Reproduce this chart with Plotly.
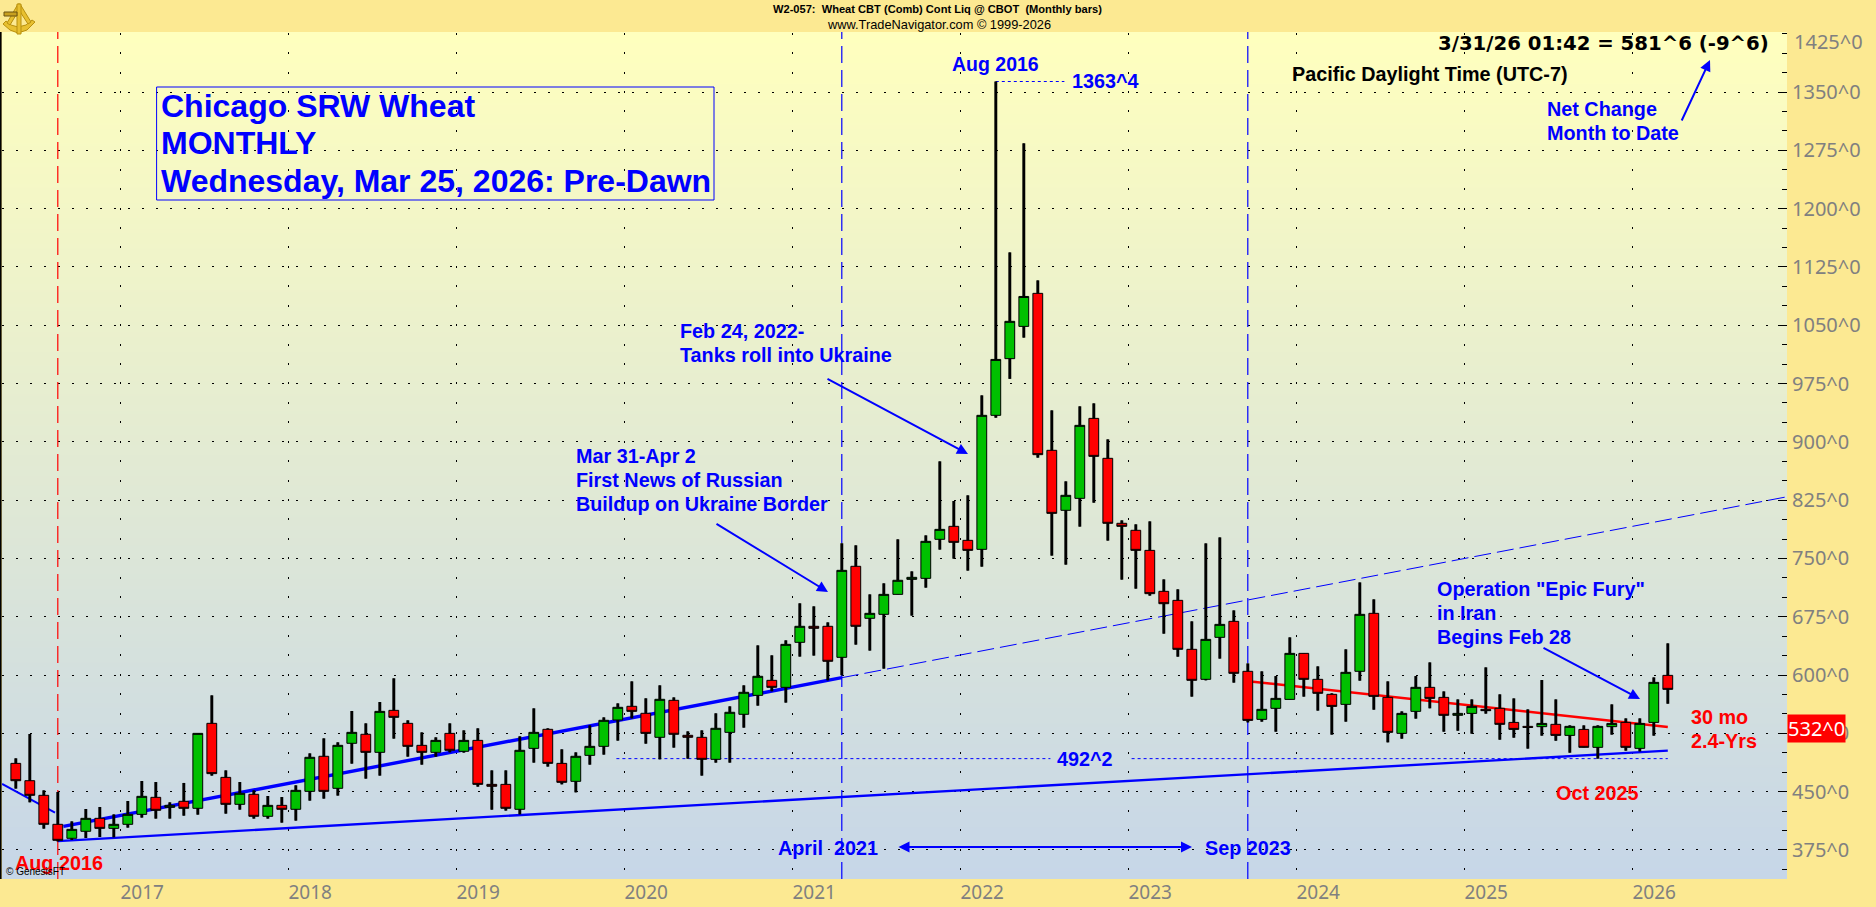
import base64, struct, zlib
import plotly.graph_objects as go

# ---------- data (prices in cents, one candle per month, May 2016 .. Mar 2026)
opens = [486.4,464.1,445.3,408,390,399,415.7,402.8,408,420.8,442.7,429.8,437.6,428.6,537.9,468.4,433.7,446.6,418.3,432.4,
 427.3,450.4,495.5,454.3,512.2,523.8,500.6,554.6,537.9,509.6,500.6,525,501.9,516,459.4,459.4,427.3,505.7,530.2,486.4,
 463.3,496.7,508.3,542.2,559.8,550.8,519.9,567.5,522.5,519.9,491.6,526.3,549.5,573.9,593.2,584.2,642.1,662.7,662.7,622.8,
 739.9,673,678.1,703.8,723.1,724.4,774.6,791.3,773.3,761.7,934.1,1007,1048.5,1091,889.1,811.9,827.3,930.2,878.8,795.2,
 786.2,760.4,707.7,696.1,633.1,594.5,648.5,669.1,604.8,543,557.2,568.7,627.9,594.5,575.2,562.3,604.8,679.4,571.3,525,
 553.3,584.2,571.3,548.2,550.7,555.9,557.2,539.1,534,533.6,536.6,522.4,530.1,507,533.6,539.1,505.7,539.1,599.6]
highs = [492.9,524.2,451.7,449.6,411.8,427.7,430.3,420.8,438,463.7,462.4,436.3,461.2,525,573.9,477.4,462.4,451.7,444.4,443.1,
 458.2,499.3,518.6,513.5,553.8,537.9,565.3,595.8,541.8,526.3,519.9,537.9,528.9,531.5,477.4,477.4,521.2,557.2,531.5,504.5,
 500.6,535.3,545.6,563.6,591.9,570.1,586.8,571.3,527.6,528.9,550.8,559.8,586.8,638.2,625.4,644.7,692.3,688.4,667.8,769.5,
 766.9,703.8,718,774.6,733.4,779.7,874.9,823.9,831.2,959.8,1363.5,1143.7,1284,1107.7,940.5,849.2,945.7,949.5,903.2,799,
 793.9,797.7,723.1,710.3,669.1,769.4,777.1,683.2,615,604.8,598.7,648.5,627.9,611.2,576.5,633.1,719.2,697.4,591.9,553.3,
 598.7,616.3,579,568.7,568.7,609.9,575.2,570,555.9,593.6,568.7,535.3,535.3,535.3,562.3,544.3,544.3,597,640.8]
lows = [453.9,436.3,402.4,386,387.8,390.4,391.7,391.3,403.7,416.6,415.3,415.3,419.1,420.4,470.6,421.7,426.8,415.3,415.3,410.1,
 412.7,438.4,441,444.9,486,466.7,470.6,518.2,495,484.7,495,500.6,500.2,456.4,426.8,425.6,420.8,487.3,482.2,459.4,
 449.1,484.7,497.6,515.6,544.3,511.7,491.6,506.6,492.4,470.6,487.3,487.3,532.3,560.6,579.1,564.5,623.7,625,593.2,599.7,
 639.1,631.4,608.2,703.8,676.4,712.4,761.3,749.7,734.3,739.4,931.1,981,1034,879.6,753.6,742,790.9,821.7,772.9,722.7,
 711.1,702.1,653.2,623.6,572.2,593.2,621.1,590.2,539.1,540,527.1,568.7,572.2,554.2,523.3,540,592.7,555.4,513.4,518.1,
 543.9,557.2,527.1,528.4,524.6,550.3,516.8,519.4,505.3,522,515.5,500.1,507,492.5,523.3,502.7,501.8,522,563.1]
closes = [464.1,445.3,408,387.4,401.5,415.7,402.8,408,420.8,444,426,432.4,428.6,525,473.2,433.7,447.9,418.3,432.4,427.3,
 451.7,494.2,450.4,509.6,526.3,500.6,553.3,545.6,508.3,500.6,516,503.2,516,459.4,456.9,428.6,503.2,526.3,486.4,462,
 495.5,508.3,541.8,558.5,553.3,525,568.8,523.8,519.9,491.6,531.5,552.1,577.8,598.4,584.2,639.5,662.7,660.1,617.7,734.7,
 662.7,679.4,703.8,721.9,725.7,772,787.4,770.7,760.4,934.1,1006,1055,1087,883.5,808,831.2,921.2,881.3,795.2,791.3,
 760.4,704.7,691.8,633.1,593.2,645.9,665.2,602.2,541.7,555.9,570,627.9,594.5,576.5,559.7,603.5,678.1,572.6,526.3,550.7,
 584.2,570,548.2,550.7,559.7,554.2,536.6,530.1,532.7,537.8,522.4,534,507,534,537.8,507,537.8,590.6,581.6]
months = list(range(len(opens)))

year_labels = ["2017","2018","2019","2020","2021","2022","2023","2024","2025","2026"]
year_breaks = [7.46,19.46,31.46,43.46,55.46,67.46,79.46,91.46,103.46,115.46]
price_ticks = [375,450,525,600,675,750,825,900,975,1050,1125,1200,1275,1350,1425]
price_labels = [f"{p}^0" for p in price_ticks]

uptrend = [(3.4, 405.4), (59, 596.6)]
uptrend_ext = [(59, 596.6), (126.5, 829.3)]
lead_in = [(-0.98, 459.9), (2.8, 423)]
support = [(3, 386.5), (118, 502.7)]
red_trend = [(88.37, 591.4), (118, 533.2)]
low_level_a = [(42.9, 492.5), (73.9, 492.5)]
low_level_b = [(79.7, 492.5), (118, 492.5)]
high_level = [(70, 1363.5), (74.9, 1363.5)]
event_months = [(3, "#ff0000"), (59, "#0000ff"), (88, "#0000ff")]

# ---------- layout constants
W, H = 1876, 907
L, R, T, B = 2, 1787, 32, 879
X_RANGE = [(L - 15.8) / 14, (R - 15.8) / 14]
Y_RANGE = [1425 - (B - 33.7) / 0.7774, 1425 - (T - 33.7) / 0.7774]
BLUE, RED = "#0000ff", "#ff0000"
ARIAL = "Liberation Sans"
GOLD, GOLD_DK = "#e8c030", "#b8900f"

def fx(px): return (px - L) / (R - L)
def fy(py): return (B - py) / (B - T)

# plot-area gradient as a PNG
def gradient_png(h, top, bottom):
    rows = b""
    for r in range(h):
        t = r / (h - 1)
        rows += b"\x00" + bytes(round(a + (b - a) * t) for a, b in zip(top, bottom))
    def chunk(tag, d):
        return struct.pack(">I", len(d)) + tag + d + struct.pack(">I", zlib.crc32(tag + d) & 0xffffffff)
    png = b"\x89PNG\r\n\x1a\n" + chunk(b"IHDR", struct.pack(">IIBBBBB", 1, h, 8, 2, 0, 0, 0)) + chunk(b"IDAT", zlib.compress(rows)) + chunk(b"IEND", b"")
    return "data:image/png;base64," + base64.b64encode(png).decode()

fig = go.Figure()

shapes = []
def line(seg, color, width, dash="solid"):
    (x0, y0), (x1, y1) = seg
    shapes.append(dict(type="line", xref="x", yref="y", x0=x0, y0=y0, x1=x1, y1=y1, layer="between",
                       line=dict(color=color, width=width, dash=dash)))

for i, color in event_months:
    line([(i, Y_RANGE[0]), (i, Y_RANGE[1])], color, 1.2, "17px,7px")
line(lead_in, BLUE, 2)
line(uptrend, BLUE, 3.4)
line(uptrend_ext, BLUE, 1, "17px,6px")
line(support, BLUE, 2.3)
line(red_trend, RED, 2.5)
line(low_level_a, BLUE, 1, "3px,3px")
line(low_level_b, BLUE, 1, "3px,3px")
line(high_level, BLUE, 1, "3px,3px")

# heavy wicks, drawn under the candle bodies
fig.add_trace(go.Bar(x=months, y=[h - l for h, l in zip(highs, lows)], base=lows, width=0.21,
                     marker=dict(color="black", line=dict(width=0)), hoverinfo="skip", showlegend=False))

fig.add_trace(go.Candlestick(
    x=months, open=opens, high=highs, low=lows, close=closes, whiskerwidth=0,
    increasing=dict(fillcolor="#00c000", line=dict(color="black", width=1)),
    decreasing=dict(fillcolor="#ff0000", line=dict(color="black", width=1)),
    showlegend=False, hoverinfo="skip"))

annotations = []
def text(px, py, s, size=19.8, color=BLUE, bold=True, family=ARIAL, anchor="left", **kw):
    annotations.append(dict(xref="paper", yref="paper", x=fx(px), y=fy(py), text=f"<b>{s}</b>" if bold else s,
                            showarrow=False, xanchor=anchor, yanchor="middle", align=anchor,
                            font=dict(family=family, size=size, color=color), borderpad=0, **kw))

def arrow(x0, y0, x1, y1, width=2, side="end"):
    annotations.append(dict(xref="paper", yref="paper", axref="pixel", ayref="pixel", x=fx(x1), y=fy(y1),
                            ax=x0 - x1, ay=y0 - y1, text="", showarrow=True, arrowhead=2, arrowsize=1.1,
                            arrowwidth=width, arrowcolor=BLUE, arrowside=side))

# headers
text(937.5, 9.3, "W2-057:  Wheat CBT (Comb) Cont Liq @ CBOT  (Monthly bars)", 11.1, "#000000", anchor="center")
text(938.5, 24.3, "www.TradeNavigator.com © 1999-2026", 12.8, "#000000", bold=False, anchor="center")
# title block
text(160, 106, "Chicago SRW Wheat", 32)
text(160, 143, "MONTHLY", 32)
text(160, 181, "Wednesday, Mar 25, 2026: Pre-Dawn", 32)
# quote
text(1437, 44, "3/31/26 01:42 = 581^6 (-9^6)", 19.7, "#000000", family="DejaVu Sans")
text(1291, 74, "Pacific Daylight Time (UTC-7)", 19.8, "#000000")
text(1546, 109, "Net Change")
text(1546, 133, "Month to Date")
arrow(1681, 122, 1710, 60)
# callouts
text(951, 64, "Aug 2016", 19.5)
text(1071, 81, "1363^4")
text(679, 331, "Feb 24, 2022-")
text(679, 355, "Tanks roll into Ukraine")
arrow(826, 378, 968, 454)
text(575, 456, "Mar 31-Apr 2")
text(575, 480, "First News of Russian")
text(575, 504, "Buildup on Ukraine Border")
arrow(715, 523, 828, 592)
text(777, 848, "April  2021")
arrow(897, 847, 1192, 847, side="end+start")
text(1204, 848, "Sep 2023")
text(1056, 759, "492^2")
text(14, 863, "Aug 2016", color=RED)
text(5, 871, "© GenesisFT", 10, "#000000", bold=False)
text(1436, 589, "Operation \"Epic Fury\"")
text(1436, 613, "in Iran")
text(1436, 637, "Begins Feb 28")
arrow(1542, 647, 1640, 699)
text(1690, 717, "30 mo", color=RED)
text(1690, 741, "2.4-Yrs", color=RED)
text(1555, 793, "Oct 2025", color=RED)
text(1793, 41.7, "1425^0", 20, "#808080", bold=False, family="Noto Sans")
text(R, 728, "532^0", 20, "#ffffff", bold=False, family="Noto Sans", bgcolor=RED)

def poly(pts, fill, edge):
    d = "M" + " L".join(f"{fx(x)},{fy(y)}" for x, y in pts) + " Z"
    return dict(type="path", xref="paper", yref="paper", path=d, fillcolor=fill, line=dict(color=edge, width=1))

shapes += [
    dict(type="rect", xref="paper", yref="paper", x0=fx(156.6), x1=fx(714), y0=fy(200), y1=fy(87),
         line=dict(color=BLUE, width=1)),
    dict(type="rect", xref="paper", yref="paper", x0=fx(0), x1=fx(1.6), y0=0, y1=1,
         line=dict(width=0), fillcolor="black"),
    # sextant brand mark
    poly([(3, 24), (10, 30), (18, 33), (27, 30), (35, 22), (32, 20), (26, 25), (18, 27), (11, 25), (6, 21)], GOLD, GOLD_DK),
    poly([(18, 4), (20, 4), (31, 22), (28, 24), (19, 10), (10, 25), (7, 23)], GOLD, GOLD_DK),
    poly([(17, 4), (21, 4), (21, 34), (17, 34)], GOLD, GOLD_DK),
    poly([(4, 12), (17, 12), (17, 16), (4, 16)], "#c8a020", "#6a5210"),
]

fig.update_layout(
    width=W, height=H, margin=dict(l=L, r=W - R, t=T, b=H - B, pad=0),
    paper_bgcolor="#fce992", plot_bgcolor="rgba(0,0,0,0)", showlegend=False,
    font=dict(family="Noto Sans"), barmode="overlay",
    images=[dict(source=gradient_png(B - T, (255, 255, 190), (198, 214, 232)), xref="paper", yref="paper",
                 x=0, y=1, sizex=1, sizey=1, xanchor="left", yanchor="top", sizing="stretch", layer="below")],
    annotations=annotations, shapes=shapes, boxgap=0.3, boxgroupgap=0,
    xaxis=dict(range=X_RANGE, tickmode="array", tickvals=year_breaks, ticktext=year_labels,
               showgrid=True, gridcolor="black", gridwidth=1, griddash="0px,0.7px,2px,16.73px",
               ticks="", ticklabelshift=22, zeroline=False, showline=False,
               tickfont=dict(family="Noto Sans", size=19, color="#808080"), rangeslider=dict(visible=False)),
    yaxis=dict(range=Y_RANGE, side="right", tickmode="array", tickvals=price_ticks[:-1], ticktext=price_labels[:-1],
               showgrid=True, gridcolor="black", gridwidth=1, griddash="2px,12px", ticklabelstandoff=4,
               ticks="inside", ticklen=9, tickwidth=1, tickcolor="black", zeroline=False, showline=False,
               minor=dict(tick0=0, dtick=25, ticks="inside", ticklen=5, tickcolor="black", tickwidth=1, showgrid=False),
               tickfont=dict(family="Noto Sans", size=20, color="#808080")),
)

fig.write_html("out.html", config={"displayModeBar": False},
               post_script="document.body.style.margin='0';document.documentElement.style.overflow='hidden';")
